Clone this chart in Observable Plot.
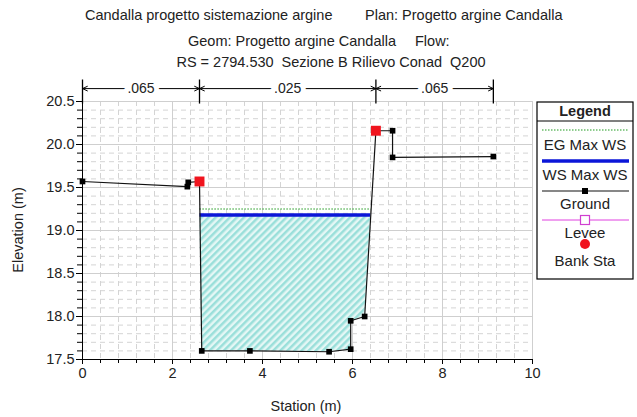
<!DOCTYPE html>
<html>
<head>
<meta charset="utf-8">
<script src="https://cdn.jsdelivr.net/npm/d3@7"></script>
<script src="https://cdn.jsdelivr.net/npm/@observablehq/plot@0.6"></script>
<style>
  html, body { margin: 0; padding: 0; background: #fff; }
  #chart svg { display: block; }
</style>
</head>
<body>
<div id="chart"></div>
<script>
// ---- data ----
const groundStation = [0, 2.33, 2.35, 2.60, 2.65, 3.72, 5.48, 5.96, 5.96, 6.27, 6.52, 6.89, 6.89, 9.13];
const groundElev    = [19.57, 19.51, 19.56, 19.57, 17.60, 17.60, 17.59, 17.62, 17.95, 18.00, 20.16, 20.16, 19.85, 19.86];
const bankStations  = [2.60, 6.52];
const wsMaxElev = 19.18;
const egMaxElev = 19.25;
const roughnessBounds = [0, 2.60, 6.52, 9.13];
const roughnessValues = [".065", ".025", ".065"];
const titleLines = [
  ["Candalla progetto sistemazione argine", "Plan: Progetto argine Candalla"],
  ["Geom: Progetto argine Candalla", "Flow:"],
  ["RS = 2794.530  Sezione B Rilievo Conad  Q200"]
];
const legendItems = ["EG Max WS", "WS Max WS", "Ground", "Levee", "Bank Sta"];

// ---- derived tables ----
const ground = groundStation.map((x, i) => ({x, y: groundElev[i]}));
const groundAt = x => {
  for (let i = 0; i < ground.length - 1; i++) {
    const a = ground[i], b = ground[i + 1];
    if (x >= a.x && x <= b.x) return b.x === a.x ? a.y : a.y + (b.y - a.y) * (x - a.x) / (b.x - a.x);
  }
  return ground[ground.length - 1].y;
};
const banks = bankStations.map(x => ({x, y: groundAt(x)}));
function edges(level) {
  let left = null, right = null;
  for (let i = 0; i < ground.length - 1; i++) {
    const a = ground[i], b = ground[i + 1];
    if (a.x < bankStations[0] - 1e-9) continue;
    if (left === null && a.y >= level && b.y < level)
      left = {i, x: a.x + (a.y - level) / (a.y - b.y) * (b.x - a.x)};
    if (left !== null && a.y < level && b.y >= level)
      right = {i, x: a.x + (level - a.y) / (b.y - a.y) * (b.x - a.x)};
  }
  return {left, right};
}
const ws = edges(wsMaxElev);
const eg = edges(egMaxElev);
const waterPoly = [{x: ws.left.x, y: wsMaxElev}]
  .concat(ground.slice(ws.left.i + 1, ws.right.i + 1))
  .concat([{x: ws.right.x, y: wsMaxElev}]);
const markerPts = ground.filter(p => !bankStations.some(b => Math.abs(b - p.x) < 1e-6));

const arrowY = 20.65, barTop = 20.75, barBottom = 20.47;
const arrowSegs = [];
roughnessValues.forEach((v, i) => {
  const a = roughnessBounds[i], b = roughnessBounds[i + 1], m = (a + b) / 2;
  arrowSegs.push({x1: m, x2: a}, {x1: m, x2: b});
});
const roughLabels = roughnessValues.map((v, i) => ({x: (roughnessBounds[i] + roughnessBounds[i + 1]) / 2, label: v}));

const xMajor = d3.range(0, 10.001, 2);
const xMinor = d3.range(0, 10.001, 0.4).filter(v => !xMajor.some(m => Math.abs(m - v) < 1e-6));
const yMajor = d3.range(17.5, 20.501, 0.5);
const yMinor = d3.range(17.5, 20.501, 0.1).filter(v => !yMajor.some(m => Math.abs(m - v) < 1e-6));
const xMinorAll = d3.range(0, 10.001, 0.4);
const yMinorAll = d3.range(17.5, 20.501, 0.1);

const FONT = "'Liberation Sans', Arial, sans-serif";

const plot = Plot.plot({
  width: 637, height: 417,
  marginLeft: 82, marginRight: 105, marginTop: 101, marginBottom: 58,
  style: {fontFamily: FONT, fontSize: "13px", color: "#222", background: "#fff"},
  x: {domain: [0, 10], label: null},
  y: {domain: [17.5, 20.5], label: null},
  marks: [
    Plot.ruleX(xMinor, {stroke: "#d4d4d4", strokeDasharray: "5,4", strokeWidth: 1}),
    Plot.ruleY(yMinor, {stroke: "#d4d4d4", strokeDasharray: "5,4", strokeWidth: 1}),
    Plot.ruleX(xMajor, {stroke: "#cfcfcf", strokeWidth: 1}),
    Plot.ruleY(yMajor, {stroke: "#cfcfcf", strokeWidth: 1}),
    Plot.area(waterPoly, {x1: "x", y1: "y", y2: () => wsMaxElev, fill: "url(#hatch)"}),
    Plot.ruleY([egMaxElev], {x1: eg.left.x, x2: eg.right.x, stroke: "#1e9a1e", strokeWidth: 1, strokeDasharray: "1.5,1.5"}),
    Plot.ruleY([wsMaxElev], {x1: ws.left.x, x2: ws.right.x, stroke: "#0b16d8", strokeWidth: 3.5}),
    Plot.line(ground, {x: "x", y: "y", stroke: "#111", strokeWidth: 1.2}),
    Plot.dot(markerPts, {x: "x", y: "y", symbol: "square", r: 3.2, fill: "#000", stroke: "none"}),
    Plot.dot(banks, {x: "x", y: "y", symbol: "square", r: 5.6, fill: "#f0141e", stroke: "none"}),
    Plot.ruleX([0], {stroke: "#000", strokeWidth: 1}),
    Plot.ruleY([17.5], {stroke: "#000", strokeWidth: 1}),
    Plot.axisX(xMinorAll, {tickSize: 4, tickFormat: () => "", stroke: "#000", label: null}),
    Plot.axisX(xMajor, {tickSize: 5, tickFormat: d => d3.format("d")(d), fontSize: 14.5, tickPadding: 3, label: null, stroke: "#000", fill: "#222"}),
    Plot.axisY(yMinorAll, {tickSize: 5, tickFormat: () => "", stroke: "#000", label: null}),
    Plot.axisY(yMajor, {tickSize: 6, tickFormat: d3.format(".1f"), fontSize: 14.5, tickPadding: 2, label: null, stroke: "#000", fill: "#222"}),
    // roughness annotation above the plot
    Plot.ruleX(roughnessBounds, {y1: barBottom, y2: barTop, stroke: "#000", strokeWidth: 1.3}),
    Plot.arrow(arrowSegs, {x1: "x1", x2: "x2", y1: arrowY, y2: arrowY, stroke: "#000", strokeWidth: 1, headLength: 8, headAngle: 50}),
    Plot.text(roughLabels, {x: "x", y: arrowY, text: "label", fontSize: 14, fill: "#222", stroke: "#fff", strokeWidth: 10})
  ]
});

const svg = d3.select(plot);
// hatch pattern
const defs = svg.insert("defs", ":first-child");
const pat = defs.append("pattern").attr("id", "hatch").attr("patternUnits", "userSpaceOnUse")
  .attr("width", 5).attr("height", 5).attr("patternTransform", "rotate(45)");
pat.append("rect").attr("width", 5).attr("height", 5).attr("fill", "#e4f7f5");
pat.append("rect").attr("width", 2.5).attr("height", 5).attr("fill", "#9adfda");

// titles
const titleG = svg.append("g").attr("font-family", FONT).attr("font-size", 14.5).attr("fill", "#222")
  .attr("text-anchor", "start");
titleG.append("text").attr("x", 85).attr("y", 20).text(titleLines[0][0]);
titleG.append("text").attr("x", 365).attr("y", 20).text(titleLines[0][1]);
titleG.append("text").attr("x", 188).attr("y", 46).text(titleLines[1][0]);
titleG.append("text").attr("x", 415).attr("y", 46).text(titleLines[1][1]);
titleG.append("text").attr("x", 331).attr("y", 67).attr("text-anchor", "middle")
  .style("white-space", "pre").text(titleLines[2][0]);

// axis labels
svg.append("text").attr("x", 306).attr("y", 411).attr("text-anchor", "middle")
  .attr("font-family", FONT).attr("font-size", 14.5).attr("fill", "#222").text("Station (m)");
svg.append("text").attr("transform", "translate(23,230) rotate(-90)").attr("text-anchor", "middle")
  .attr("font-family", FONT).attr("font-size", 14.5).attr("fill", "#222").text("Elevation (m)");

// legend
const lg = svg.append("g").attr("font-family", FONT).attr("fill", "#222").attr("text-anchor", "middle");
const L = {x0: 537, x1: 633, y0: 102, y1: 279};
const cx = (L.x0 + L.x1) / 2;
lg.append("rect").attr("x", L.x0).attr("y", L.y0).attr("width", L.x1 - L.x0).attr("height", L.y1 - L.y0)
  .attr("fill", "#fff").attr("stroke", "#000").attr("stroke-width", 1.2);
lg.append("text").attr("x", cx).attr("y", 116).attr("font-size", 14.5)
  .attr("font-weight", "bold").text("Legend");
lg.append("line").attr("x1", L.x0).attr("x2", L.x1).attr("y1", 121).attr("y2", 121).attr("stroke", "#000");
const sx0 = L.x0 + 5, sx1 = L.x1 - 4;
// EG
lg.append("line").attr("x1", sx0).attr("x2", sx1).attr("y1", 130).attr("y2", 130)
  .attr("stroke", "#1e9a1e").attr("stroke-dasharray", "1.5,1.5");
lg.append("text").attr("x", cx).attr("y", 150).attr("font-size", 15).text(legendItems[0]);
// WS
lg.append("line").attr("x1", sx0).attr("x2", sx1).attr("y1", 161).attr("y2", 161)
  .attr("stroke", "#0b16d8").attr("stroke-width", 3.5);
lg.append("text").attr("x", cx).attr("y", 180).attr("font-size", 15).text(legendItems[1]);
// Ground
lg.append("line").attr("x1", sx0).attr("x2", sx1).attr("y1", 191).attr("y2", 191).attr("stroke", "#111").attr("stroke-width", 1.2);
lg.append("rect").attr("x", cx - 3).attr("y", 188).attr("width", 6).attr("height", 6).attr("fill", "#000");
lg.append("text").attr("x", cx).attr("y", 209).attr("font-size", 15).text(legendItems[2]);
// Levee
lg.append("line").attr("x1", sx0).attr("x2", sx1).attr("y1", 220).attr("y2", 220).attr("stroke", "#e040e0");
lg.append("rect").attr("x", cx - 4.5).attr("y", 215.5).attr("width", 9).attr("height", 9)
  .attr("fill", "#fff").attr("stroke", "#d040d0").attr("stroke-width", 1.2);
lg.append("text").attr("x", cx).attr("y", 238).attr("font-size", 15).text(legendItems[3]);
// Bank Sta
lg.append("circle").attr("cx", cx).attr("cy", 244).attr("r", 5).attr("fill", "#f0141e");
lg.append("text").attr("x", cx).attr("y", 266).attr("font-size", 15).text(legendItems[4]);

document.getElementById("chart").appendChild(plot);
</script>
</body>
</html>
